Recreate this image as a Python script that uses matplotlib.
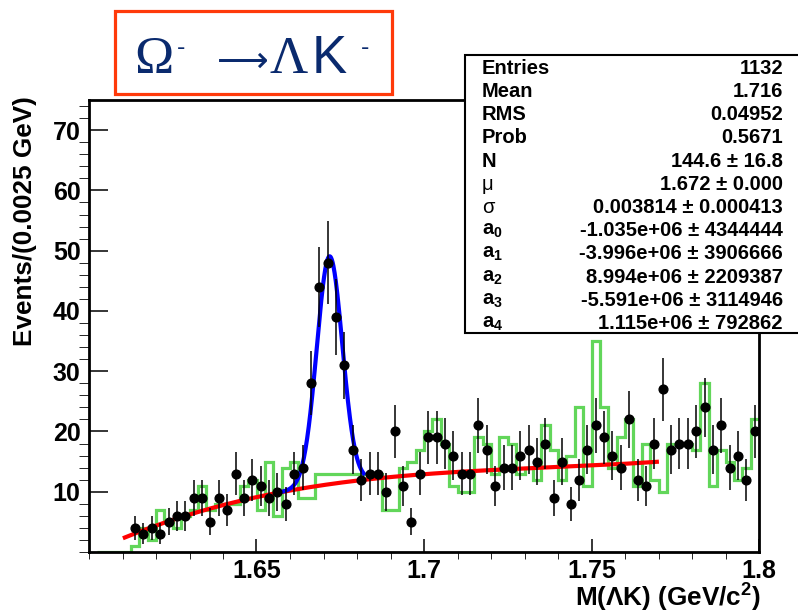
import matplotlib
matplotlib.use("Agg")
import matplotlib.pyplot as plt
from matplotlib.patches import Rectangle
from matplotlib.ticker import MultipleLocator
import numpy as np

plt.rcParams['font.family'] = ['Liberation Sans', 'DejaVu Sans']
plt.rcParams['mathtext.fontset'] = 'custom'
plt.rcParams['mathtext.rm'] = 'Liberation Sans:bold'
plt.rcParams['mathtext.it'] = 'Liberation Sans:bold'
plt.rcParams['mathtext.bf'] = 'Liberation Sans:bold'

W, H = 798, 614

# histogram binning
x_lo, x_hi = 1.60, 1.80
bin_width = 0.0025

# data points (events per bin, 80 bins from 1.60)
counts = [0, 0, 0, 0, 0, 4, 3, 4, 3, 5,
          6, 6, 9, 9, 5, 9, 7, 13, 9, 12,
          11, 9, 10, 8, 13, 14, 28, 44, 48, 39,
          31, 17, 12, 13, 13, 10, 20, 11, 5, 13,
          19, 19, 18, 16, 13, 13, 21, 17, 11, 14,
          14, 16, 17, 15, 18, 9, 15, 8, 12, 17,
          21, 19, 16, 14, 22, 12, 11, 18, 27, 17,
          18, 18, 20, 24, 17, 21, 14, 16, 12, 20]

# green comparison histogram (first bin not drawn)
green = [0, 0, 0, 0, 0, 1, 4, 2, 7, 5,
         4, 6, 7, 11, 7, 8, 8, 8, 11, 12,
         7, 15, 6, 14, 15, 9, 9, 13, 13, 13,
         13, 13, 13, 13, 13, 7, 7, 14, 15, 17,
         20, 22, 18, 11, 10, 10, 19, 18, 13, 19,
         18, 13, 14, 12, 21, 17, 12, 16, 24, 11,
         35, 24, 14, 19, 22, 11, 18, 12, 10, 18,
         18, 18, 17, 28, 11, 17, 15, 12, 14, 22]

# background fit curve
red_x = [1.6107, 1.624, 1.640, 1.650, 1.663, 1.672, 1.699, 1.7507, 1.7695]
red_y = [2.3, 5.4, 7.6, 9.2, 10.4, 11.2, 13.0, 14.3, 15.0]

# gaussian part of the signal fit (from the stats box)
fit_N, fit_mu, fit_sigma = 144.6, 1.6718, 0.003814
blue_lo, blue_hi = 1.658, 1.682

stat_names = ['Entries', 'Mean', 'RMS', 'Prob', 'N', 'μ', 'σ',
              'a$_0$', 'a$_1$', 'a$_2$', 'a$_3$', 'a$_4$']
stat_values = ['1132', '1.716', '0.04952', '0.5671', '144.6 ± 16.8',
               '1.672 ± 0.000', '0.003814 ± 0.000413',
               '-1.035e+06 ± 4344444', '-3.996e+06 ± 3906666',
               '8.994e+06 ± 2209387', '-5.591e+06 ± 3114946',
               '1.115e+06 ± 792862']


def fx(px):
    return px / W


def fy(py):
    return 1 - py / H


fig = plt.figure(figsize=(W / 100, H / 100), dpi=100)
ax = fig.add_axes([fx(89), fy(552), (759 - 89) / W, (552 - 100) / H])

edges = x_lo + bin_width * np.arange(len(counts) + 1)
centers = edges[:-1] + bin_width / 2
counts = np.array(counts, dtype=float)
m = counts > 0

ax.stairs(green[1:], edges[1:], baseline=None, color='#62d65a', lw=2.3, zorder=2)

xs = np.linspace(red_x[0], red_x[-1], 300)
coef = np.polyfit(red_x, red_y, 3)
ax.plot(xs, np.polyval(coef, xs), color='#ff0000', lw=3.0, zorder=3)

xb = np.linspace(blue_lo, blue_hi, 200)
amp = fit_N * bin_width / (np.sqrt(2 * np.pi) * fit_sigma)
yb = np.polyval(coef, xb) + amp * np.exp(-0.5 * ((xb - fit_mu) / fit_sigma) ** 2)
ax.plot(xb, yb, color='#0000ff', lw=3.0, zorder=3)

ax.errorbar(centers[m], counts[m], yerr=np.sqrt(counts[m]), fmt='o',
            color='black', ms=6.3, elinewidth=1.1, capsize=0, zorder=4)

ax.set_xlim(x_lo, x_hi)
ax.set_ylim(0, 75)
ax.set_xticks([1.65, 1.7, 1.75, 1.8])
ax.set_xticklabels(['1.65', '1.7', '1.75', '1.8'])
ax.set_yticks([10, 20, 30, 40, 50, 60, 70])
ax.xaxis.set_minor_locator(MultipleLocator(0.01))
ax.yaxis.set_minor_locator(MultipleLocator(2))
ax.tick_params(direction='in', top=False, right=False, width=1.1,
               labelsize=18, colors='black')
ax.tick_params(axis='y', which='major', length=14, pad=6)
ax.tick_params(axis='y', which='minor', length=7)
ax.tick_params(axis='x', which='major', length=9.5, pad=5)
ax.tick_params(axis='x', which='minor', length=5)
for lab in ax.get_xticklabels() + ax.get_yticklabels():
    lab.set_fontweight('bold')
for sp in ax.spines.values():
    sp.set_linewidth(2.0)

fig.text(fx(25), fy(221), 'Events/(0.0025 GeV)', rotation=90, ha='center',
         va='center', fontsize=18.8, fontweight='bold')
fig.text(fx(761), fy(598), 'M(ΛK) (GeV/c$^2$)', ha='right', va='center',
         fontsize=18.8, fontweight='bold')

# stats box
fig.add_artist(Rectangle((fx(465), fy(333)), (820 - 465) / W, (333 - 55) / H,
                         transform=fig.transFigure, facecolor='white',
                         edgecolor='black', lw=1.5, zorder=10))
for i, (name, val) in enumerate(zip(stat_names, stat_values)):
    y = fy(68.3 + 23.2 * i)
    weight = 'normal' if name in ('μ', 'σ') else 'bold'
    fig.text(fx(482), y, name, ha='left', va='center', fontsize=14.5,
             fontweight=weight, zorder=11)
    fig.text(fx(783), y, val, ha='right', va='center', fontsize=14.5,
             fontweight='bold', zorder=11)

# title box
fig.add_artist(Rectangle((fx(115), fy(94)), (392 - 115) / W, (94 - 11) / H,
                         transform=fig.transFigure, facecolor='white',
                         edgecolor='#ff3a0a', lw=2.3, zorder=10))
navy = '#0a2a6e'
serif = ['Liberation Serif', 'DejaVu Serif']
fig.text(fx(134), fy(73), 'Ω', family=serif, fontsize=38, color=navy,
         va='baseline', ha='left', zorder=11)
fig.text(fx(177), fy(48), '-', fontsize=18, color=navy, va='center',
         ha='left', zorder=11)
fig.text(fx(243), fy(62), '⟶', family=['DejaVu Sans'], fontsize=26,
         color=navy, va='center', ha='center', zorder=11)
fig.text(fx(269), fy(73), 'Λ', family=serif, fontsize=38, color=navy,
         va='baseline', ha='left', zorder=11)
fig.text(fx(312), fy(73), 'K', family=['Liberation Sans'], fontsize=38,
         color=navy, va='baseline', ha='left', zorder=11)
fig.text(fx(361), fy(48), '-', fontsize=18, color=navy, va='center',
         ha='left', zorder=11)

fig.savefig('out.png', dpi=100)
